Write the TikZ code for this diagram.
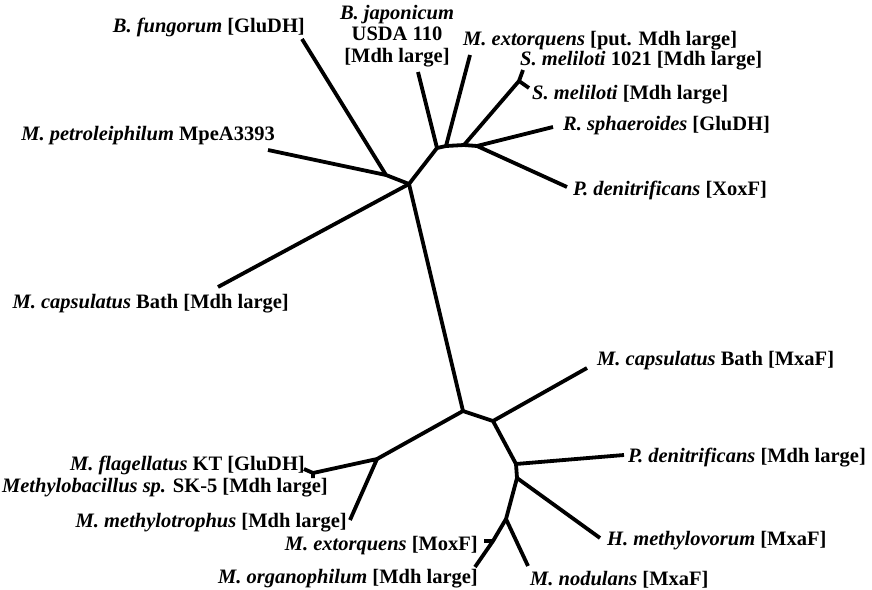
\documentclass[tikz,border=0pt]{standalone}
\usepackage{fontspec}
\setmainfont{Liberation Serif}
\begin{document}
\begin{tikzpicture}[x=1pt,y=-1pt,
  branch/.style={line width=3.8pt,line join=round,line cap=butt,black},
  lbl/.style={inner sep=0pt,font=\fontsize{20.5}{21}\selectfont\bfseries}]
\useasboundingbox (0,0) rectangle (872,589);
% junctions
\coordinate (N1) at (409,184);
\coordinate (N2) at (386,175);
\coordinate (N3) at (437,148);
\coordinate (N4) at (446,146);
\coordinate (N5) at (464,145);
\coordinate (N6) at (477,146);
\coordinate (Sj) at (519,81);
\coordinate (N7) at (463,411);
\coordinate (N8) at (377,459);
\coordinate (N9) at (313,473);
\coordinate (N10) at (493,421);
\coordinate (N11) at (516,464);
\coordinate (N12) at (517,478);
\coordinate (N13) at (506,519);
\coordinate (N14) at (493,541);
% tips
\coordinate (tFun) at (302,39);
\coordinate (tPet) at (268,150);
\coordinate (tCapM) at (218,287);
\coordinate (tJap) at (418,72);
\coordinate (tExtP) at (470,55);
\coordinate (tSm1) at (523,70);
\coordinate (tSm2) at (529,88);
\coordinate (tRsp) at (553,127);
\coordinate (tPdX) at (567,187);
\coordinate (tFla) at (304,469);
\coordinate (tSK) at (313,478);
\coordinate (tMet) at (350,520);
\coordinate (tCapX) at (587,368);
\coordinate (tPdM) at (624,455);
\coordinate (tHme) at (600,538);
\coordinate (tNod) at (528,566);
\coordinate (tOrg) at (475,567);
\coordinate (tMox) at (484,541);
% branches
\draw[branch] (tFun) -- (N2) -- (N1);
\draw[branch] (tPet) -- (N2);
\draw[branch] (tCapM) -- (N1) -- (N3) -- (N4) -- (N5) -- (N6);
\draw[branch] (N1) -- (N7);
\draw[branch] (tJap) -- (N3);
\draw[branch] (tExtP) -- (N4);
\draw[branch] (N5) -- (Sj);
\draw[branch] (tSm1) -- (Sj) -- (tSm2);
\draw[branch] (tRsp) -- (N6) -- (tPdX);
\draw[branch] (N8) -- (N7) -- (N10) -- (N11) -- (N12) -- (N13) -- (N14);
\draw[branch] (tMet) -- (N8) -- (N9);
\draw[branch] (tFla) -- (N9) -- (tSK);
\draw[branch] (N10) -- (tCapX);
\draw[branch] (N11) -- (tPdM);
\draw[branch] (N12) -- (tHme);
\draw[branch] (N13) -- (tNod);
\draw[branch] (tOrg) -- (N14) -- (tMox);
% labels
\node[lbl,anchor=base east] (lFun) at (305,32) {\textit{B. fungorum} [GluDH]};
\node[lbl,anchor=north,align=center,font=\fontsize{20.5}{21.5}\selectfont\bfseries] (lJap) at (397,5) {\textit{B. japonicum}\\USDA 110\\{}[Mdh large]};
\node[lbl,anchor=base west] (lExtP) at (463,45) {\textit{M. extorquens} [put. Mdh large]};
\node[lbl,anchor=base west] (lSm1) at (520,65) {\textit{S. meliloti} 1021 [Mdh large]};
\node[lbl,anchor=base west] (lSm2) at (532,99) {\textit{S. meliloti} [Mdh large]};
\node[lbl,anchor=base west] (lRsp) at (563,130) {\textit{R. sphaeroides} [GluDH]};
\node[lbl,anchor=base west] (lPdX) at (573,195) {\textit{P. denitrificans} [XoxF]};
\node[lbl,anchor=base east] (lPet) at (275,140) {\textit{M. petroleiphilum} MpeA3393};
\node[lbl,anchor=base east] (lCapM) at (289,308) {\textit{M. capsulatus} Bath [Mdh large]};
\node[lbl,anchor=base west] (lCapX) at (597,365) {\textit{M. capsulatus} Bath [MxaF]};
\node[lbl,anchor=base west] (lPdM) at (628,462) {\textit{P. denitrificans} [Mdh large]};
\node[lbl,anchor=base west] (lHme) at (607,545) {\textit{H. methylovorum} [MxaF]};
\node[lbl,anchor=base west] (lNod) at (530,585) {\textit{M. nodulans} [MxaF]};
\node[lbl,anchor=base east] (lFla) at (305,470) {\textit{M. flagellatus} KT [GluDH]};
\node[lbl,anchor=base east] (lSK) at (328,492) {\textit{Methylobacillus sp.} SK-5 [Mdh large]};
\node[lbl,anchor=base east] (lMet) at (347,527) {\textit{M. methylotrophus} [Mdh large]};
\node[lbl,anchor=base east] (lMox) at (478,550) {\textit{M. extorquens} [MoxF]};
\node[lbl,anchor=base east] (lOrg) at (478,583) {\textit{M. organophilum} [Mdh large]};
\end{tikzpicture}
\end{document}
